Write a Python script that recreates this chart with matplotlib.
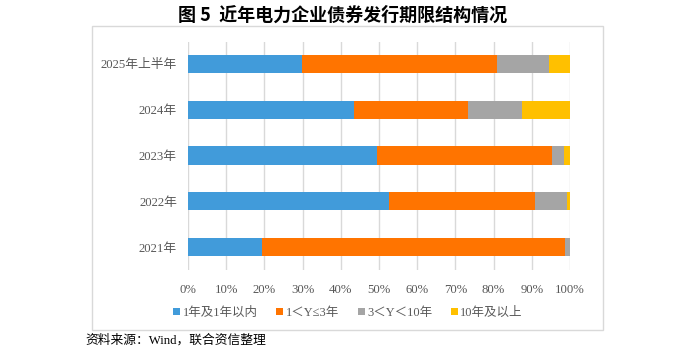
import matplotlib
matplotlib.use("Agg")
import matplotlib.pyplot as plt
from matplotlib.patches import Rectangle
import numpy as np

plt.rcParams["font.family"] = ["Liberation Serif", "Noto Sans CJK SC"]

# data (percent), bottom-to-top order as drawn
categories = ["2021年", "2022年", "2023年", "2024年", "2025年上半年"]
series_names = ["1年及1年以内", "1＜Y≤3年", "3＜Y＜10年", "10年及以上"]
within_1y = [19.4, 52.7, 49.5, 43.5, 29.9]
y1_to_3 = [79.2, 38.2, 45.7, 29.7, 51.1]
y3_to_10 = [1.3, 8.4, 3.1, 14.2, 13.6]
above_10y = [0.1, 0.7, 1.7, 12.6, 5.4]
x_ticks = [0, 10, 20, 30, 40, 50, 60, 70, 80, 90, 100]

colors = ["#419BDA", "#FF7400", "#A5A5A5", "#FFC000"]
text_color = "#595959"

W, H = 699, 351
fig = plt.figure(figsize=(W / 100, H / 100), dpi=100)

# outer chart frame
fig.patches.append(Rectangle((92 / W, 1 - 330 / H), (603 - 92) / W, (330 - 26) / H,
                             transform=fig.transFigure, fill=False,
                             edgecolor="#D9D9D9", linewidth=1.0))

ax = fig.add_axes([188 / W, 1 - 270 / H, (570 - 188) / W, (270 - 42) / H])

y = np.arange(len(categories))
left = np.zeros(len(categories))
for name, vals, c in zip(series_names, [within_1y, y1_to_3, y3_to_10, above_10y], colors):
    ax.barh(y, vals, left=left, height=0.4, color=c, label=name, zorder=3)
    left += np.array(vals)

ax.set_xlim(0, 100)
ax.set_ylim(-0.5, 4.48)
ax.set_xticks(x_ticks)
ax.set_xticklabels([f"{t}%" for t in x_ticks])
ax.set_yticks(y)
ax.set_yticklabels(categories)
ax.tick_params(axis="both", length=0, colors=text_color, labelsize=9.2)
ax.tick_params(axis="x", pad=10)
ax.tick_params(axis="y", pad=8)
ax.grid(axis="x", color="#D9D9D9", linewidth=1.0, zorder=0)
for s in ax.spines.values():
    s.set_visible(False)

handles, labels = ax.get_legend_handles_labels()
leg = fig.legend(handles, labels, loc="center", bbox_to_anchor=(348 / W, 1 - 313 / H),
                 ncol=4, frameon=False, fontsize=9, handlelength=0.55, handleheight=0.55,
                 handletextpad=0.2, columnspacing=1.5)
for t in leg.get_texts():
    t.set_color(text_color)

fig.text(343 / W, 1 - 15 / H, "图 5  近年电力企业债券发行期限结构情况", ha="center", va="center",
         fontsize=13, fontweight="bold", family=["Noto Sans CJK SC"])
fig.text(85 / W, 1 - 340 / H, "资料来源：Wind，联合资信整理", ha="left", va="center",
         fontsize=9.2, color="#000000")

fig.savefig("out.png", dpi=100)
plt.close(fig)
